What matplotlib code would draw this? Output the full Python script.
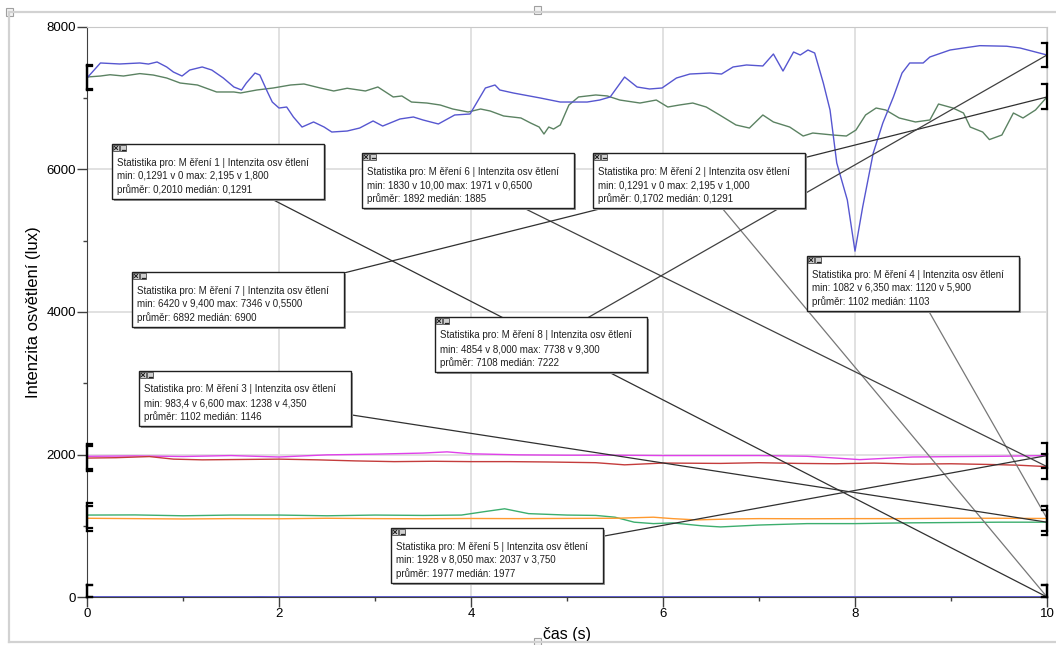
import matplotlib.pyplot as plt
from matplotlib.patches import Rectangle
from matplotlib.lines import Line2D

plt.rcParams['font.family'] = ['Liberation Sans', 'DejaVu Sans']

# ---- measurements: time (s) and illuminance (lux) ----
t1 = [0.0, 1.0, 1.7, 1.8, 1.9, 4.0, 7.0, 10.0]
m1 = [0.1291, 0.1291, 0.1291, 2.195, 0.1291, 0.1291, 0.1291, 0.1291]

t2 = [0.0, 0.9, 1.0, 1.1, 4.0, 7.0, 10.0]
m2 = [0.1291, 0.1291, 2.195, 0.1291, 0.1291, 0.1291, 0.1291]

t3 = [0, 0.5, 1.0, 1.5, 2.0, 2.5, 3.0, 3.5, 3.9, 4.15, 4.35, 4.6, 5.0, 5.3,
      5.5, 5.7, 5.9, 6.1, 6.4, 6.6, 7.0, 7.5, 8.0, 8.5, 9.0, 9.5, 10]
m3 = [1150, 1152, 1140, 1150, 1150, 1140, 1150, 1145, 1150, 1200, 1238, 1170, 1150, 1145,
      1120, 1050, 1030, 1040, 1000, 983.4, 1010, 1030, 1030, 1040, 1045, 1050, 1050]

t4 = [0, 0.5, 1.0, 1.5, 2.0, 2.5, 3.0, 3.5, 4.0, 4.5, 5.0, 5.5,
      5.9, 6.1, 6.35, 6.7, 7.0, 7.5, 8.0, 8.5, 9.0, 9.5, 10]
m4 = [1105, 1100, 1095, 1100, 1098, 1105, 1100, 1098, 1102, 1100, 1103, 1105,
      1120, 1100, 1082, 1095, 1100, 1098, 1100, 1100, 1105, 1105, 1102]

t5 = [0, 0.5, 1.0, 1.5, 2.0, 2.5, 3.0, 3.5, 3.75, 4.0, 4.5, 5.0,
      5.5, 6.0, 6.5, 7.0, 7.5, 7.8, 8.05, 8.3, 8.6, 9.0, 9.5, 10]
m5 = [1975, 1980, 1972, 1985, 1965, 1995, 2005, 2020, 2037, 2010, 1995, 1990,
      1990, 1985, 1985, 1985, 1975, 1950, 1928, 1945, 1965, 1970, 1975, 1985]

t6 = [0, 0.3, 0.65, 0.9, 1.2, 1.6, 2.0, 2.4, 2.8, 3.2, 3.6, 4.0, 4.4, 4.8,
      5.3, 5.6, 6.0, 6.6, 7.0, 7.4, 7.8, 8.2, 8.6, 9.0, 9.4, 9.7, 10]
m6 = [1950, 1955, 1971, 1935, 1925, 1930, 1935, 1925, 1910, 1900, 1905, 1900, 1900, 1895,
      1885, 1855, 1880, 1875, 1885, 1875, 1870, 1880, 1865, 1870, 1860, 1850, 1830]

t7 = [0, 0.14, 0.24, 0.38, 0.55, 0.69, 0.83, 0.97, 1.15, 1.35, 1.53, 1.6,
      1.77, 1.94, 2.12, 2.26, 2.43, 2.57, 2.71, 2.9, 3.03, 3.19, 3.28, 3.38,
      3.54, 3.68, 3.81, 3.97, 4.1, 4.2, 4.34, 4.52, 4.62, 4.71, 4.76, 4.81,
      4.86, 4.93, 5.02, 5.12, 5.3, 5.42, 5.55, 5.76, 5.93, 6.05, 6.17, 6.31,
      6.45, 6.59, 6.76, 6.9, 7.04, 7.15, 7.32, 7.46, 7.56, 7.77, 7.91, 8.01,
      8.11, 8.22, 8.32, 8.46, 8.63, 8.78, 8.87, 9.02, 9.13, 9.2, 9.33, 9.4,
      9.53, 9.65, 9.75, 9.88, 10]
m7 = [7298, 7312, 7330, 7312, 7346, 7326, 7284, 7214, 7186, 7088, 7088, 7074,
      7116, 7144, 7186, 7200, 7144, 7102, 7140, 7102, 7158, 7018, 7032, 6947,
      6933, 6905, 6849, 6807, 6849, 6821, 6751, 6723, 6653, 6596, 6498, 6596,
      6568, 6625, 6905, 7018, 7046, 7032, 6975, 6933, 6975, 6877, 6905, 6933,
      6877, 6765, 6625, 6582, 6765, 6667, 6596, 6470, 6512, 6484, 6470, 6554,
      6765, 6863, 6835, 6723, 6667, 6695, 6919, 6863, 6793, 6596, 6526, 6420,
      6484, 6793, 6723, 6835, 7018]

t8 = [0, 0.14, 0.34, 0.55, 0.64, 0.73, 0.83, 0.9, 0.99, 1.07, 1.2, 1.3,
      1.42, 1.53, 1.61, 1.66, 1.75, 1.8, 1.88, 1.93, 2.0, 2.08, 2.15, 2.24,
      2.36, 2.47, 2.55, 2.71, 2.84, 2.98, 3.08, 3.26, 3.4, 3.5, 3.66, 3.83,
      3.99, 4.15, 4.25, 4.3, 4.44, 4.72, 4.93, 5.07, 5.21, 5.34, 5.45, 5.6,
      5.73, 5.86, 5.99, 6.14, 6.28, 6.49, 6.61, 6.73, 6.87, 7.04, 7.15, 7.25,
      7.36, 7.43, 7.51, 7.58, 7.67, 7.74, 7.81, 7.92, 8.0, 8.08, 8.19, 8.29,
      8.4, 8.49, 8.57, 8.71, 8.78, 8.99, 9.13, 9.3, 9.58, 9.72, 10]
m8 = [7284, 7495, 7481, 7495, 7480, 7509, 7439, 7368, 7312, 7396, 7439, 7396,
      7284, 7158, 7116, 7214, 7354, 7326, 7088, 6947, 6863, 6877, 6737, 6596,
      6667, 6596, 6526, 6540, 6582, 6681, 6610, 6709, 6737, 6695, 6639, 6765,
      6779, 7144, 7186, 7116, 7074, 7004, 6947, 6947, 6947, 6975, 7018, 7298,
      7158, 7130, 7144, 7284, 7340, 7354, 7340, 7439, 7467, 7453, 7621, 7382,
      7649, 7607, 7677, 7635, 7214, 6835, 6091, 5572, 4854, 5474, 6232, 6653,
      7018, 7354, 7495, 7495, 7579, 7677, 7705, 7738, 7730, 7705, 7607]

series = [(t1, m1), (t2, m2), (t3, m3), (t4, m4), (t5, m5), (t6, m6), (t7, m7), (t8, m8)]
colors = ['#4848d8', '#5a5ad0', '#3cae6e', '#ff9a30', '#e040ea', '#c43c3c', '#5b8262', '#5656d0']

stat_lines = [
    ("min: 0,1291 v 0 max: 2,195 v 1,800", "průměr: 0,2010 medián: 0,1291"),
    ("min: 0,1291 v 0 max: 2,195 v 1,000", "průměr: 0,1702 medián: 0,1291"),
    ("min: 983,4 v 6,600 max: 1238 v 4,350", "průměr: 1102 medián: 1146"),
    ("min: 1082 v 6,350 max: 1120 v 5,900", "průměr: 1102 medián: 1103"),
    ("min: 1928 v 8,050 max: 2037 v 3,750", "průměr: 1977 medián: 1977"),
    ("min: 1830 v 10,00 max: 1971 v 0,6500", "průměr: 1892 medián: 1885"),
    ("min: 6420 v 9,400 max: 7346 v 0,5500", "průměr: 6892 medián: 6900"),
    ("min: 4854 v 8,000 max: 7738 v 9,300", "průměr: 7108 medián: 7222"),
]

# statistics box placement (figure pixels, top-left corner) and leader colour
box_pos = [(112, 144), (593, 153), (139, 371), (807, 256),
           (391, 528), (362, 153), (132, 272), (435, 317)]
leader_col = ['#303030', '#777777', '#303030', '#777777',
              '#303030', '#404040', '#303030', '#404040']

W, H = 1056, 645
BOX_W, BOX_H = 212, 55


def fx(x):
    return x / W


def fy(y):
    return 1 - y / H


fig = plt.figure(figsize=(W / 100, H / 100), dpi=100)
ax = fig.add_axes([87 / W, 48 / H, 960 / W, 570 / H])

for (t, m), c in zip(series, colors):
    ax.plot(t, m, color=c, lw=1.0, zorder=2)

ax.set_xlim(0, 10)
ax.set_ylim(0, 8000)
ax.set_xticks(range(0, 11, 2))
ax.set_xticks(range(1, 10, 2), minor=True)
ax.set_yticks(range(0, 8001, 2000))
ax.set_yticks(range(1000, 8000, 2000), minor=True)
ax.grid(True, which='major', color='#dedede', lw=1.3)
ax.set_axisbelow(True)
ax.tick_params(which='major', direction='out', length=7, width=1, color='#404040',
               labelsize=9.5, pad=1)
ax.tick_params(which='minor', direction='out', length=3, width=1, color='#404040')
for s in ['top', 'right']:
    ax.spines[s].set_color('#c8c8c8')
for s in ['left', 'bottom']:
    ax.spines[s].set_color('#404040')
ax.set_xlabel('čas (s)', fontsize=11.5, labelpad=5)
ax.set_ylabel('Intenzita osvětlení (lux)', fontsize=12, labelpad=4)

# range brackets at both ends of every series
half, tick = 175, 0.05
for t, m in series:
    for x, v, d in [(0, m[0], tick), (10, m[-1], -tick)]:
        lo, hi = max(v - half, 0), v + half
        ax.plot([x, x], [lo, hi], color='black', lw=1.6, clip_on=False, zorder=6)
        ax.plot([x, x + d], [hi, hi], color='black', lw=1.6, clip_on=False, zorder=6)
        ax.plot([x, x + d], [lo, lo], color='black', lw=1.6, clip_on=False, zorder=6)

# statistics boxes with leader lines to the last sample
for i, ((t, m), (bx, by), lc) in enumerate(zip(series, box_pos, leader_col)):
    cx, cy = bx + BOX_W / 2, by + BOX_H / 2
    ax.annotate('', xy=(t[-1], m[-1]), xycoords='data',
                xytext=(fx(cx), fy(cy)), textcoords='figure fraction',
                arrowprops=dict(arrowstyle='-', color=lc, lw=0.9, shrinkA=0, shrinkB=0),
                zorder=4)
    fig.add_artist(Rectangle((fx(bx + 1.5), fy(by + BOX_H + 1.5)), BOX_W / W, BOX_H / H,
                             transform=fig.transFigure, facecolor='#9a9a9a',
                             edgecolor='none', zorder=5))
    fig.add_artist(Rectangle((fx(bx), fy(by + BOX_H)), BOX_W / W, BOX_H / H,
                             transform=fig.transFigure, facecolor='white',
                             edgecolor='#202020', lw=1.0, zorder=6))
    # close / minimise buttons
    for k in range(2):
        ix = bx + 1 + 7 * k
        fig.add_artist(Rectangle((fx(ix), fy(by + 7)), 6 / W, 6 / H,
                                 transform=fig.transFigure, facecolor='#cfcfcf',
                                 edgecolor='#4a4a4a', lw=0.6, zorder=7))
    fig.add_artist(Line2D([fx(bx + 2.5), fx(bx + 5.5)], [fy(by + 2.5), fy(by + 5.5)],
                          color='#222222', lw=0.8, zorder=8))
    fig.add_artist(Line2D([fx(bx + 2.5), fx(bx + 5.5)], [fy(by + 5.5), fy(by + 2.5)],
                          color='#222222', lw=0.8, zorder=8))
    fig.add_artist(Line2D([fx(bx + 9.5), fx(bx + 12.5)], [fy(by + 5.5), fy(by + 5.5)],
                          color='#222222', lw=0.9, zorder=8))
    lines = [f"Statistika pro: M ěření {i + 1} | Intenzita osv ětlení"] + list(stat_lines[i])
    for k, line in enumerate(lines):
        fig.text(fx(bx + 5), fy(by + 18.5 + 13.5 * k), line, fontsize=7,
                 ha='left', va='center', color='#202020', zorder=9)

# window frame around the graph
frame = '#d2d2d2'
fig.add_artist(Line2D([fx(9), fx(W)], [fy(12), fy(12)], color=frame, lw=1.6))
fig.add_artist(Line2D([fx(9), fx(9)], [fy(12), fy(642)], color=frame, lw=1.6))
fig.add_artist(Line2D([fx(9), fx(W)], [fy(642), fy(642)], color=frame, lw=1.6))
for hx, hy in [(9, 12), (537, 10), (537, 641)]:
    fig.add_artist(Rectangle((fx(hx - 3.5), fy(hy + 3.5)), 7 / W, 7 / H,
                             transform=fig.transFigure, facecolor='#f4f4f4',
                             edgecolor='#a0a0a0', lw=0.8))

fig.savefig('out.png', dpi=100)
